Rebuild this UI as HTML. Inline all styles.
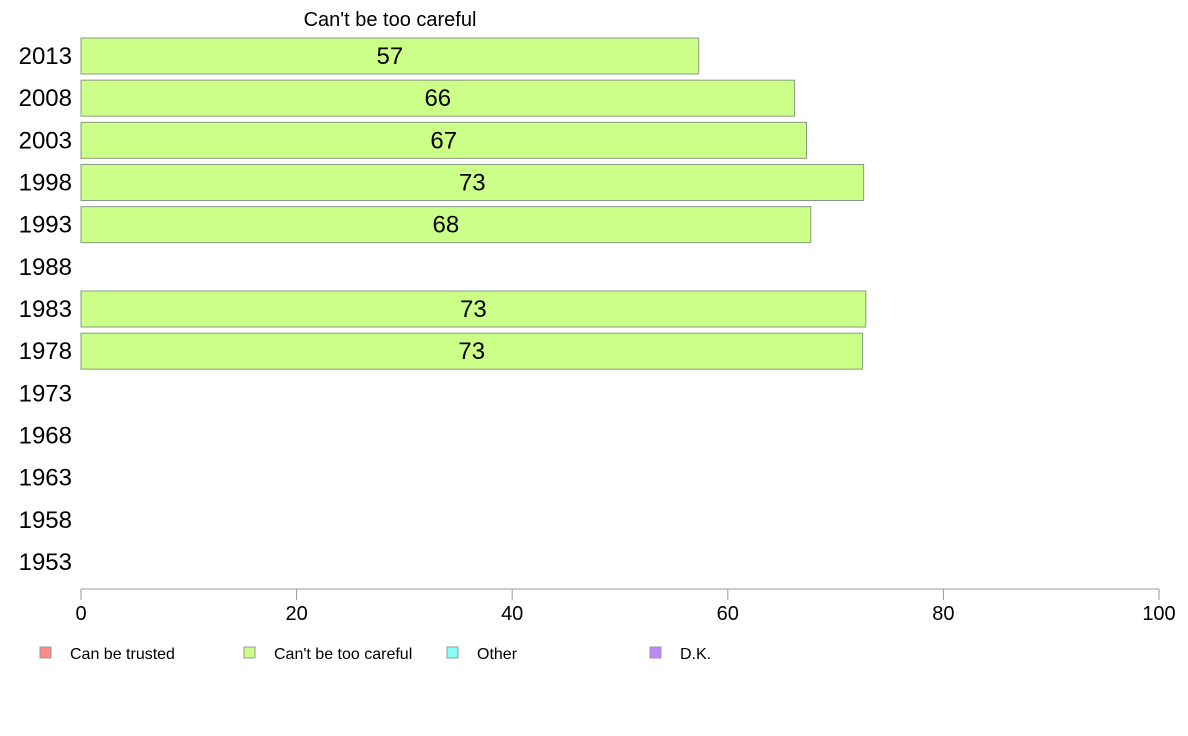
<!DOCTYPE html>
<html><head><meta charset="utf-8"><style>
body{margin:0;background:#fff;font-family:"Liberation Sans",Arial,sans-serif}
svg{display:block}
</style></head><body>
<svg id="chart" width="1188" height="736" font-family="Liberation Sans, Arial, sans-serif">
<text x="390" y="26" font-size="20" text-anchor="middle">Can't be too careful</text>
<g id="bars"></g>
<g id="axis"></g>
<g id="legend"></g>
</svg>
<script>
const years = ["2013","2008","2003","1998","1993","1988","1983","1978","1973","1968","1963","1958","1953"];
const values = [57.3, 66.2, 67.3, 72.6, 67.7, null, 72.8, 72.5, null, null, null, null, null];
const ticks = [0,20,40,60,80,100];
const legendLabels = ["Can be trusted","Can't be too careful","Other","D.K."];
const legendColors = ["#ff8888","#ccff88","#88ffff","#bb88ff"];

const NS="http://www.w3.org/2000/svg";
const x = v => 81 + v*(1159-81)/100;
const yc = i => 56 + i*(562-56)/12;
const bh = 36;
function mk(tag, attrs, parent){const e=document.createElementNS(NS,tag);for(const k in attrs)e.setAttribute(k,attrs[k]);parent.appendChild(e);return e;}
const bars=document.getElementById('bars');
years.forEach((yr,i)=>{
  const t=mk('text',{x:72,y:yc(i)+8,'font-size':24,'text-anchor':'end'},bars);
  t.textContent=yr;
  
  
  const v=values[i];
  if(v!=null){
    const r=mk('rect',{x:x(0),y:yc(i)-bh/2,width:x(v)-x(0),height:bh,fill:'#ccff88',stroke:'#8a9a80','stroke-width':1},bars);
    
    
    const l=mk('text',{x:(x(0)+x(v))/2,y:yc(i)+8,'font-size':24,'text-anchor':'middle'},bars);
    l.textContent=Math.round(v);
    
    
  }
});
const ax=document.getElementById('axis');
const line=mk('line',{x1:x(0),x2:x(100),y1:589,y2:589,stroke:'#999','stroke-width':1},ax);


ticks.forEach(t=>{
  const tk=mk('line',{x1:x(t),x2:x(t),y1:589,y2:600,stroke:'#999','stroke-width':1},ax);
  
  
  const tl=mk('text',{x:x(t),y:620,'font-size':20,'text-anchor':'middle'},ax);
  tl.textContent=t;
  
  
});
const lg=document.getElementById('legend');
const lx=[40,244,447,650];
legendLabels.forEach((lab,i)=>{
  const g=mk('g',{},lg);
  
  
  mk('rect',{x:lx[i],y:647,width:11,height:11,fill:legendColors[i],stroke:'#999','stroke-width':1},g);
  const t=mk('text',{x:lx[i]+30,y:659,'font-size':16},g);
  t.textContent=lab;
});
</script>
</body></html>
